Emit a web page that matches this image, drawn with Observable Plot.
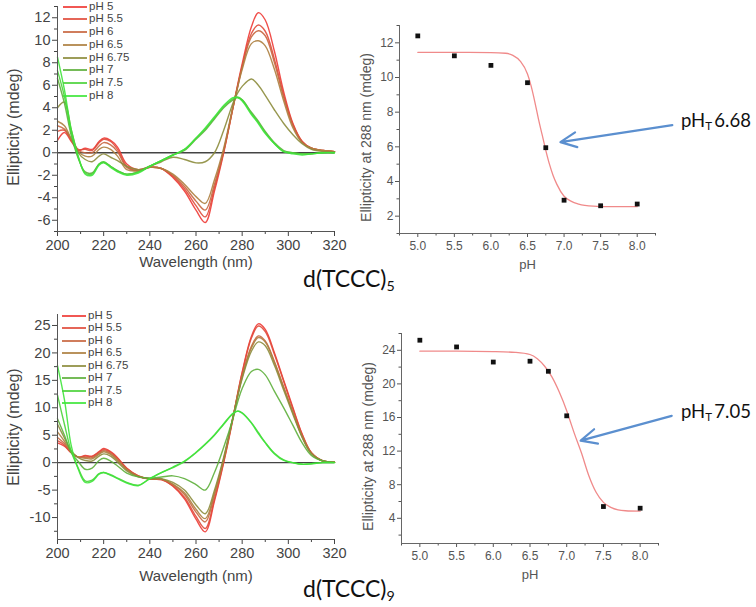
<!DOCTYPE html>
<html><head><meta charset="utf-8">
<script src="https://cdn.jsdelivr.net/npm/d3@7"></script>
<script src="https://cdn.jsdelivr.net/npm/@observablehq/plot@0.6"></script>
<style>
body{margin:0;background:#fff;}
#fig{position:relative;width:756px;height:607px;overflow:hidden;font-family:"Liberation Sans",Arial,sans-serif;background:#fff;}
.big{position:absolute;font-family:Lato,"Open Sans",sans-serif;color:#111;white-space:nowrap;line-height:1;}
.big sub{font-size:0.62em;vertical-align:baseline;position:relative;top:0.3em;}
.leg{position:absolute;font-size:11.5px;color:#444;white-space:nowrap;line-height:1;}
.sw{position:absolute;height:2px;width:24px;opacity:0.85;}
</style></head><body><div id="fig"></div>
<script>
// ---------- data ----------
const phLabels = ["pH 5","pH 5.5","pH 6","pH 6.5","pH 6.75","pH 7","pH 7.5","pH 8"];
const phColors = ["#ee3a35","#e04b3b","#c8663f","#ad7f40","#8c8c3c","#5daf3b","#4bd23a","#3ee63a"];
const phValues = [5.0,5.5,6.0,6.5,6.75,7.0,7.5,8.0];

const waves = [200,203,206,209,212,215,218,220,223,226,230,235,240,245,250,255,260,264,268,272,276,278,280,284,287,290,294,298,302,306,310,315,320];
const waveTicks = [200,220,240,260,280,300,320];
const waveMinor = [210,230,250,270,290,310];

// d(TCCC)5 CD spectra (mdeg)
const t5_pH5   = [1.1,1.8,1.0,0.2,0.4,0.3,1.0,1.3,1.1,0.5,-1.0,-1.5,-1.3,-1.4,-2.2,-3.4,-5.1,-6.2,-3.4,0.0,4.0,6.0,7.9,11.2,12.45,11.8,9.0,5.4,2.6,1.0,0.4,0.2,0.1];
const t5_pH55  = [1.9,2.0,1.1,0.3,0.3,0.2,0.9,1.2,1.0,0.3,-1.2,-1.6,-1.3,-1.4,-2.1,-3.2,-4.7,-5.7,-3.1,0.1,4.0,5.9,7.7,10.6,11.35,10.8,8.3,5.1,2.5,1.0,0.4,0.2,0.1];
const t5_pH6   = [2.4,2.1,1.2,0.2,0.0,0.0,0.6,0.9,0.7,0.1,-1.3,-1.6,-1.3,-1.4,-2.0,-3.0,-4.3,-5.1,-2.8,0.2,4.0,5.8,7.6,10.3,10.85,10.4,8.0,4.9,2.4,0.9,0.4,0.2,0.1];
const t5_pH65  = [2.8,2.4,1.2,0.1,-0.3,-0.3,0.3,0.5,0.3,-0.3,-1.5,-1.6,-1.3,-1.4,-1.9,-2.8,-3.9,-4.5,-2.4,0.4,4.1,5.8,7.4,9.7,9.95,9.5,7.4,4.6,2.2,0.9,0.4,0.2,0.1];
const t5_pH675 = [4.0,4.5,2.0,0.0,-0.6,-0.8,-0.3,-0.1,-0.4,-0.7,-1.2,-1.5,-1.2,-0.8,-0.4,-0.6,-0.9,-0.8,0.0,2.0,4.4,5.3,5.9,6.55,6.0,5.1,3.8,2.6,1.6,0.8,0.3,0.1,0.1];
const t5_pH7   = [6.6,4.4,1.5,-0.5,-1.7,-1.8,-1.0,-0.85,-1.2,-1.6,-1.9,-1.7,-1.2,-0.7,-0.2,0.2,1.2,2.0,3.0,4.0,4.7,4.9,4.7,3.6,2.8,1.9,0.9,0.2,0.0,-0.1,-0.1,0.0,0.0];
const t5_pH75  = [7.3,5.0,1.8,-0.4,-1.8,-1.9,-1.0,-0.8,-1.2,-1.6,-1.9,-1.7,-1.2,-0.7,-0.2,0.3,1.3,2.1,3.1,4.1,4.8,4.95,4.7,3.5,2.7,1.8,0.8,0.1,0.0,-0.1,-0.1,0.0,0.0];
const t5_pH8   = [8.5,5.6,2.0,-0.3,-1.9,-2.0,-1.1,-0.9,-1.3,-1.7,-2.0,-1.8,-1.2,-0.7,-0.2,0.3,1.3,2.2,3.2,4.2,4.9,4.9,4.6,3.4,2.6,1.7,0.8,0.1,-0.1,-0.2,-0.1,0.0,0.0];

// d(TCCC)9 CD spectra (mdeg)
const t9_pH5   = [3.6,3.0,1.8,1.0,1.3,1.2,2.0,2.6,2.0,0.9,-1.0,-2.4,-3.0,-3.1,-4.3,-6.6,-10.3,-12.6,-7.0,0.0,8.0,12.5,16.5,23.0,25.3,24.3,20.0,15.0,10.0,5.2,1.8,0.3,0.1];
const t9_pH55  = [4.0,3.2,1.8,1.0,1.2,1.1,1.9,2.4,1.9,0.8,-1.0,-2.4,-3.0,-3.1,-4.2,-6.3,-9.8,-12.0,-6.6,0.2,8.1,12.4,16.3,22.7,24.9,23.9,19.7,14.8,9.8,5.1,1.8,0.3,0.1];
const t9_pH6   = [4.6,3.5,1.9,1.0,1.0,0.9,1.7,2.2,1.7,0.6,-1.2,-2.5,-3.0,-3.0,-4.0,-5.8,-9.0,-10.8,-5.9,0.5,8.2,12.2,15.8,21.2,23.1,22.2,18.4,13.8,9.2,4.8,1.7,0.3,0.1];
const t9_pH65  = [5.6,3.9,2.0,1.0,0.8,0.7,1.5,2.0,1.5,0.4,-1.3,-2.5,-2.9,-3.0,-3.9,-5.5,-8.5,-10.2,-5.5,0.7,8.3,12.1,15.6,20.9,22.8,22.0,18.2,13.6,9.1,4.7,1.7,0.3,0.1];
const t9_pH675 = [7.0,4.5,2.1,0.9,0.4,0.3,1.2,1.6,1.2,0.1,-1.5,-2.6,-2.9,-2.9,-3.6,-5.0,-7.7,-9.3,-5.0,1.0,8.3,12.0,15.3,20.3,22.0,21.3,17.7,13.2,8.8,4.6,1.6,0.3,0.1];
const t9_pH7   = [8.0,5.0,1.8,0.2,-1.2,-1.0,0.4,0.8,0.3,-0.6,-1.9,-2.6,-2.8,-2.6,-2.4,-2.9,-4.0,-5.0,-1.8,2.8,8.0,11.0,13.5,16.6,17.0,16.0,13.0,10.0,6.8,3.6,1.3,0.3,0.1];
const t9_pH75  = [12.3,7.0,2.0,-1.0,-3.3,-3.2,-2.0,-1.8,-2.2,-2.8,-3.6,-4.1,-2.9,-1.8,-0.9,0.2,1.8,3.3,5.0,7.0,8.9,9.4,9.1,7.3,5.5,3.7,1.7,0.5,0.0,-0.3,-0.2,0.0,0.0];
const t9_pH8   = [17.7,11.5,3.0,-1.2,-3.6,-3.4,-2.1,-1.8,-2.3,-2.9,-3.7,-4.2,-2.9,-1.8,-0.8,0.3,1.9,3.4,5.1,7.1,9.0,9.4,9.0,7.2,5.3,3.6,1.6,0.4,0.0,-0.3,-0.2,0.0,0.0];

// titration at 288 nm
const ell288_t5 = [12.4,11.25,10.7,9.7,5.95,2.92,2.6,2.7];
const ell288_t9 = [25.2,24.4,22.6,22.7,21.5,16.2,5.4,5.2];
// fitted curves
const fit5X = [5.0,5.5,6.0,6.2,6.3,6.4,6.5,6.55,6.6,6.65,6.7,6.75,6.8,6.85,6.9,7.0,7.1,7.2,7.4,7.6,8.0];
const fit5Y = [11.45,11.45,11.44,11.4,11.28,10.95,10.2,9.5,8.6,7.6,6.7,5.8,5.0,4.35,3.85,3.15,2.85,2.7,2.58,2.55,2.55];
const fit9X = [5.0,5.5,6.0,6.3,6.5,6.6,6.7,6.8,6.9,7.0,7.05,7.1,7.2,7.3,7.4,7.5,7.6,7.7,7.8,8.0];
const fit9Y = [23.9,23.9,23.85,23.75,23.5,23.0,22.1,20.8,19.0,16.8,15.5,14.2,11.8,9.1,7.1,5.9,5.3,5.0,4.9,4.85];

const phTicks = [5.0,5.5,6.0,6.5,7.0,7.5,8.0];
const phMinor = [4.75,5.25,5.75,6.25,6.75,7.25,7.75,8.25];

// annotation arrows (data units of each titration panel): [tail, head]
const arrow5 = [[8.48,7.25],[6.95,6.27]];
const arrow9 = [[8.43,16.2],[7.19,13.25]];

// ---------- drawing ----------
const fig = document.getElementById("fig");
function place(node, left, top) {
  node.style.position = "absolute"; node.style.left = left + "px"; node.style.top = top + "px";
  fig.appendChild(node);
}
const baseStyle = {background: "transparent", fontFamily: "Liberation Sans, Arial, sans-serif", color: "#444", overflow: "visible"};

function spectraPanel({series, yDomain, yTicks, yMinor, height, marginTop, marginBottom, xTitleDy, yTitleDy}) {
  const rows = [];
  phLabels.forEach((name, i) => waves.forEach((w, j) => rows.push({w, v: series[i][j], s: name})));
  return Plot.plot({
    width: 340, height, marginLeft: 57, marginRight: 6, marginTop, marginBottom,
    style: baseStyle,
    x: {domain: [200, 320]},
    y: {domain: yDomain},
    color: {domain: phLabels, range: phColors},
    marks: [
      Plot.ruleY([0], {stroke: "#444", strokeWidth: 1.3}),
      Plot.line(rows, {x: "w", y: "v", z: "s", stroke: "s", strokeWidth: 1.4, strokeOpacity: 0.9, curve: "catmull-rom"}),
      Plot.axisX({ticks: waveTicks, tickSize: 5, tickPadding: 3, fontSize: 14.5, label: null, tickFormat: d => d}),
      Plot.axisX({ticks: waveMinor, tickSize: 3, tickFormat: () => "", label: null}),
      Plot.axisY({ticks: yTicks, tickSize: 5, tickPadding: 2, fontSize: 14.5, label: null, tickFormat: d => d}),
      Plot.axisY({ticks: yMinor, tickSize: 3, tickFormat: () => "", label: null}),
      Plot.ruleX([200], {stroke: "#555"}),
      Plot.ruleY([yDomain[0]], {stroke: "#555"}),
      Plot.text(["Wavelength (nm)"], {text: d => d, frameAnchor: "bottom", dy: xTitleDy, fontSize: 15, fill: "#444"}),
      Plot.text(["Ellipticity (mdeg)"], {text: d => d, frameAnchor: "left", textAnchor: "middle", rotate: -90, dx: -44, dy: yTitleDy, fontSize: 16, fill: "#444"})
    ]
  });
}

function titrationPanel({vals, fitX, fitY, yDomain, yTicks, yMinor, height, marginTop, marginBottom, marginLeft, marginRight, arrow, xTitleDy, yTitleDy}) {
  const pts = phValues.map((p, i) => ({p, v: vals[i]}));
  const fit = fitX.map((x, i) => ({x, y: fitY[i]}));
  return Plot.plot({
    width: 416, height, marginLeft, marginRight, marginTop, marginBottom,
    style: baseStyle,
    x: {domain: [4.75, 8.25]},
    y: {domain: yDomain},
    marks: [
      Plot.line(fit, {x: "x", y: "y", stroke: "#f08a8a", strokeWidth: 1.3, curve: "monotone-x"}),
      Plot.dot(pts, {x: "p", y: "v", symbol: "square", r: 2.7, fill: "#111", stroke: "none"}),
      Plot.axisX({ticks: phTicks, tickSize: 4, tickPadding: 4, fontSize: 12, label: null, tickFormat: d3.format(".1f"), color: "#555"}),
      Plot.axisX({ticks: phMinor, tickSize: 2.5, tickFormat: () => "", label: null, color: "#555"}),
      Plot.axisY({ticks: yTicks, tickSize: 4, tickPadding: 2, fontSize: 12, label: null, tickFormat: d => d, color: "#555"}),
      Plot.axisY({ticks: yMinor, tickSize: 2.5, tickFormat: () => "", label: null, color: "#555"}),
      Plot.ruleX([4.75], {stroke: "#666"}),
      Plot.ruleY([yDomain[0]], {stroke: "#666"}),
      Plot.text(["pH"], {text: d => d, frameAnchor: "bottom", dy: xTitleDy, fontSize: 13, fill: "#555"}),
      Plot.text(["Ellipticity at 288 nm (mdeg)"], {text: d => d, frameAnchor: "left", textAnchor: "middle", rotate: -90, dx: -33, dy: yTitleDy, fontSize: 14, fill: "#555"}),
      Plot.arrow([arrow], {x1: d => d[0][0], y1: d => d[0][1], x2: d => d[1][0], y2: d => d[1][1], stroke: "#5b8fcf", strokeWidth: 2.2, headLength: 12, headAngle: 50})
    ]
  });
}

const s5 = [t5_pH5, t5_pH55, t5_pH6, t5_pH65, t5_pH675, t5_pH7, t5_pH75, t5_pH8];
const s9 = [t9_pH5, t9_pH55, t9_pH6, t9_pH65, t9_pH675, t9_pH7, t9_pH75, t9_pH8];

place(spectraPanel({series: s5, yDomain: [-7, 13], yTicks: d3.range(-6, 13, 2), yMinor: d3.range(-7, 14, 2),
  height: 290, marginTop: 6, marginBottom: 59, xTitleDy: 35, yTitleDy: 8}), 0, 0);
place(spectraPanel({series: s9, yDomain: [-14, 27], yTicks: d3.range(-10, 26, 5), yMinor: d3.range(-12.5, 27, 5),
  height: 300, marginTop: 14, marginBottom: 61, xTitleDy: 41, yTitleDy: 0}), 0, 300);
place(titrationPanel({vals: ell288_t5, fitX: fit5X, fitY: fit5Y, yDomain: [1, 13], yTicks: d3.range(2, 13, 2), yMinor: d3.range(1, 14, 2),
  height: 290, marginTop: 25, marginBottom: 57, marginLeft: 59, marginRight: 101, arrow: arrow5, xTitleDy: 35, yTitleDy: 8}), 340, 0);
place(titrationPanel({vals: ell288_t9, fitX: fit9X, fitY: fit9Y, yDomain: [1, 26], yTicks: d3.range(4, 25, 4), yMinor: d3.range(2, 27, 4),
  height: 300, marginTop: 33, marginBottom: 57, marginLeft: 61, marginRight: 98, arrow: arrow9, xTitleDy: 35, yTitleDy: 8}), 340, 300);

// legends
function legend(x0, y0, step) {
  phLabels.forEach((name, i) => {
    const y = Math.round(y0 + i * step);
    const sw = document.createElement("div"); sw.className = "sw"; sw.style.background = phColors[i];
    place(sw, x0, y - 1);
    const t = document.createElement("div"); t.className = "leg"; t.textContent = name;
    place(t, x0 + 26, y - 6);
  });
}
legend(63, 6.7, 12.7);
legend(62, 316, 12.45);

// big labels
function big(html, left, top, size) {
  const d = document.createElement("div"); d.className = "big"; d.innerHTML = html; d.style.fontSize = size + "px";
  place(d, left, top);
}
big("d(TCCC)<sub>5</sub>", 303, 267, 23);
big("d(TCCC)<sub>9</sub>", 303, 577, 23);
big("pH<sub>T</sub>&#8201;6.68", 681, 111, 18.5);
big("pH<sub>T</sub>&#8201;7.05", 681, 402, 18.5);
</script></body></html>
